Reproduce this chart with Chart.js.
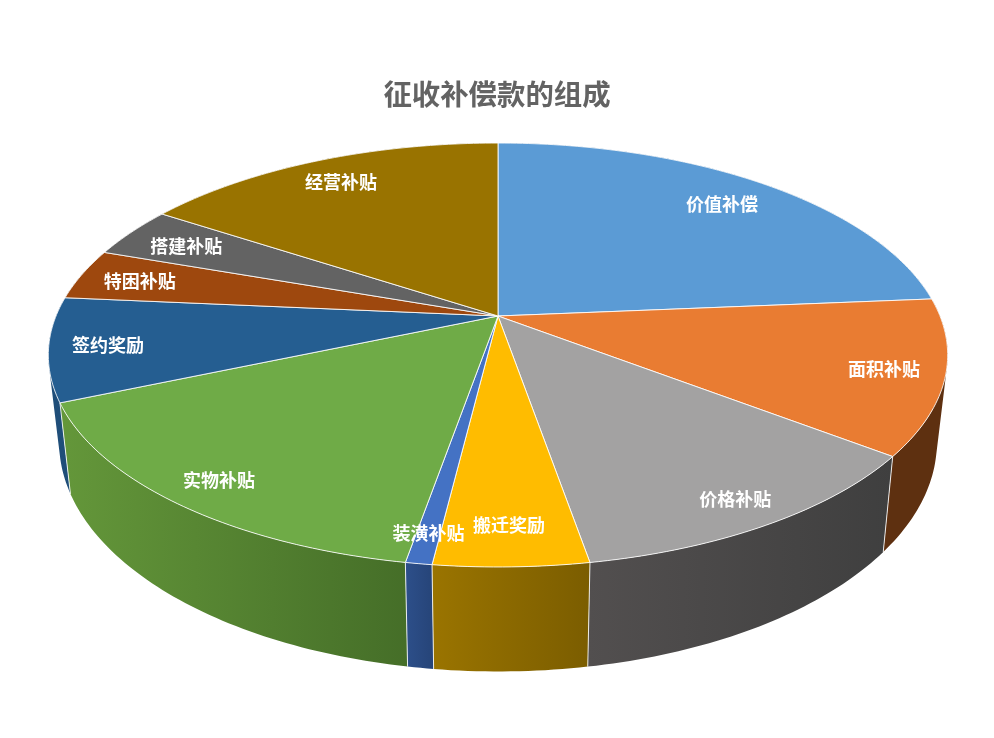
<!DOCTYPE html>
<html>
<head>
<meta charset="utf-8">
<title>征收补偿款的组成</title>
<script src="https://cdn.jsdelivr.net/npm/chart.js@4"></script>
<style>
    html, body { margin: 0; padding: 0; background: #fff; }
    #wrap { width: 994px; height: 738px; }
</style>
</head>
<body>
<div id="wrap"><canvas id="compensationPie"></canvas></div>
<script>
//////////////////////// Data ////////////////////////
const categories = ['价值补偿', '面积补贴', '价格补贴', '搬迁奖励', '装潢补贴', '实物补贴', '签约奖励', '特困补贴', '搭建补贴', '经营补贴'];
const shares = [23.7, 11.8, 11.87, 4.68, 0.8, 15.85, 7.9, 3.9, 3.9, 15.8];

//////////////////////// Colours ////////////////////////
const topColors = ['#5b9bd5', '#e97c32', '#a3a2a2', '#ffbc00', '#4472c4', '#6fab47', '#255e91', '#9e480e', '#636363', '#997300'];
const wallLeftColors = ['#37618a', '#5e3010', '#524f4f', '#9a7400', '#2d4f8a', '#64973a', '#1f4e79', '#5e2b08', '#3c3c3c', '#5c4500'];
const wallRightColors = ['#37618a', '#5e3010', '#3f3f3f', '#7b5d00', '#264478', '#456e28', '#1f4e79', '#5e2b08', '#3c3c3c', '#5c4500'];

//////////////////////// Tilted pie ////////////////////////
// Perspective of the disc, fitted to the picture
const view = { cx: 498, cy: 316, rx: 442, ry: 204.8, k: -0.184 };
// How far out each label sits along the middle of its slice
const labelReach = [0.834, 0.869, 0.892, 0.856, 0.895, 0.887, 0.871, 0.857, 0.84, 0.85];

function topPoint(angle, r) {
    const u = r * Math.cos(angle);
    const v = r * Math.sin(angle);
    const w = 1 + view.k * v;
    return { x: view.cx + view.rx * u / w, y: view.cy + view.ry * v / w };
}

// The bottom rim of the wall sits lower and a bit narrower than the top rim
function bottomPoint(angle) {
    const p = topPoint(angle, 1);
    return { x: view.cx + 0.976 * (p.x - view.cx), y: 1.082 * p.y + 58 };
}

function arcAngles(start, end) {
    const steps = Math.max(2, Math.ceil((end - start) * 60));
    const out = [];
    for (let i = 0; i <= steps; i++) {
        out.push(start + (end - start) * i / steps);
    }
    return out;
}

// One strip of wall, always wound the same way so strips add up in one path
function addStrip(ctx, a, b, c, d) {
    const pts = [a, b, c, d];
    let area = 0;
    pts.forEach((p, n) => {
        const q = pts[(n + 1) % 4];
        area += p.x * q.y - q.x * p.y;
    });
    if (area < 0) pts.reverse();
    ctx.moveTo(pts[0].x, pts[0].y);
    pts.slice(1).forEach((p) => ctx.lineTo(p.x, p.y));
    ctx.closePath();
}

const pie3d = {
    id: 'pie3d',
    beforeDatasetsDraw(chart) {
        const ctx = chart.ctx;
        const arcs = chart.getDatasetMeta(0).data;
        ctx.save();
        ctx.lineJoin = 'round';

        // walls first, back to front
        const order = arcs.map((arc, i) => i).sort((a, b) => {
            return Math.sin((arcs[a].startAngle + arcs[a].endAngle) / 2) - Math.sin((arcs[b].startAngle + arcs[b].endAngle) / 2);
        });
        order.forEach((i) => {
            const angles = arcAngles(arcs[i].startAngle, arcs[i].endAngle);
            const tops = angles.map((a) => topPoint(a, 1));
            const bottoms = angles.map(bottomPoint);
            const xs = tops.concat(bottoms).map((p) => p.x);
            const grad = ctx.createLinearGradient(Math.min(...xs), 0, Math.max(...xs), 0);
            grad.addColorStop(0, wallLeftColors[i]);
            grad.addColorStop(1, wallRightColors[i]);
            ctx.beginPath();
            for (let n = 0; n < angles.length - 1; n++) {
                addStrip(ctx, tops[n], tops[n + 1], bottoms[n + 1], bottoms[n]);
            }
            ctx.fillStyle = grad;
            ctx.fill();
        });

        // white edges between the walls
        ctx.strokeStyle = 'rgba(255,255,255,0.85)';
        ctx.lineWidth = 1;
        arcs.forEach((arc) => {
            const a = topPoint(arc.startAngle, 1);
            const b = bottomPoint(arc.startAngle);
            ctx.beginPath();
            ctx.moveTo(a.x, a.y);
            ctx.lineTo(b.x, b.y);
            ctx.stroke();
        });

        // top of the pie
        arcs.forEach((arc, i) => {
            ctx.beginPath();
            ctx.moveTo(view.cx, view.cy);
            arcAngles(arc.startAngle, arc.endAngle).forEach((a) => {
                const p = topPoint(a, 1);
                ctx.lineTo(p.x, p.y);
            });
            ctx.closePath();
            ctx.fillStyle = topColors[i];
            ctx.fill();
            ctx.stroke();
        });

        // labels
        ctx.fillStyle = '#fff';
        ctx.font = 'bold 18px "Noto Sans CJK SC"';
        ctx.textAlign = 'center';
        ctx.textBaseline = 'middle';
        arcs.forEach((arc, i) => {
            const p = topPoint((arc.startAngle + arc.endAngle) / 2, labelReach[i]);
            ctx.fillText(categories[i], p.x, p.y + 1);
        });
        ctx.restore();
        return false; // the plain flat pie is not wanted
    }
};

//////////////////////// Chart ////////////////////////
const config = {
    type: 'pie',
    data: {
        labels: categories,
        datasets: [{
            label: '征收补偿款',
            data: shares,
            backgroundColor: topColors
        }]
    },
    options: {
        responsive: true,
        maintainAspectRatio: false,
        animation: false,
        plugins: {
            legend: { display: false },
            tooltip: { enabled: false },
            title: {
                display: true,
                text: '征收补偿款的组成',
                color: '#636363',
                font: { family: '"Noto Sans CJK SC"', size: 28.4, weight: 'bold' },
                padding: { top: 77, bottom: 10 }
            }
        }
    },
    plugins: [pie3d]
};

const ctx = document.getElementById('compensationPie').getContext('2d');
new Chart(ctx, config);
</script>
</body>
</html>
